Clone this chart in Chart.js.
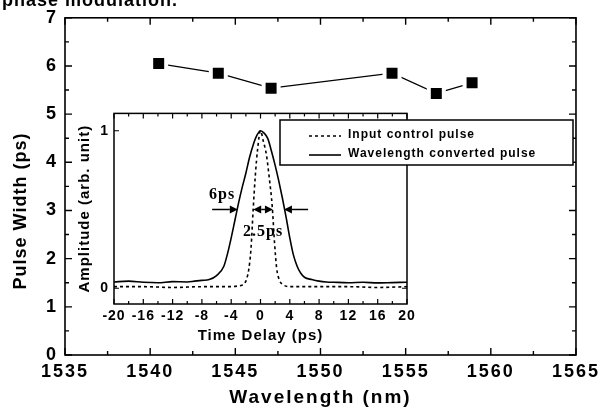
<!DOCTYPE html>
<html>
<head>
<meta charset="utf-8">
<script src="https://cdn.jsdelivr.net/npm/chart.js@4.4.1/dist/chart.umd.min.js"></script>
<style>
  html, body { margin: 0; padding: 0; background: #fff; }
  #wrap { position: relative; width: 602px; height: 415px; overflow: hidden; }
  #mainChart { position: absolute; left: 0; top: 0; }
  #insetChart { position: absolute; left: 70px; top: 100px; }
  #topText { position: absolute; left: 2px; top: -9px; font: bold 18px "Liberation Sans", Arial, sans-serif; line-height: 18px; letter-spacing: 1px; color: #000; }
</style>
</head>
<body>
<div id="wrap">
  <canvas id="mainChart" width="602" height="415"></canvas>
  <canvas id="insetChart" width="510" height="250"></canvas>
  <div id="topText">phase modulation.</div>
</div>
<script>
// main plot: pulse width vs wavelength
var wavelengths = [1540.5, 1544.0, 1547.1, 1554.2, 1556.8, 1558.9];
var pulseWidths = [6.05, 5.85, 5.54, 5.85, 5.43, 5.65];
var wlTicks = [1535, 1540, 1545, 1550, 1555, 1560, 1565];
var pwTicks = [0, 1, 2, 3, 4, 5, 6, 7];

// inset: pulse shapes vs time delay
var convertedT = [-20, -18, -16, -14, -12, -10, -9, -8, -7, -6, -5, -4.5, -4, -3.5, -3, -2.5, -2, -1.5, -1, -0.5, 0,
                  0.5, 1, 1.5, 2, 2.5, 3, 3.5, 4, 4.5, 5, 5.5, 6, 7, 8, 9, 10, 12, 14, 16, 18, 20];
var convertedAmp = [0.04, 0.045, 0.038, 0.035, 0.042, 0.04, 0.045, 0.05, 0.055, 0.08, 0.14, 0.22, 0.32, 0.43, 0.54, 0.64, 0.73, 0.83, 0.91, 0.97, 1.0,
                    0.985, 0.95, 0.87, 0.78, 0.68, 0.57, 0.45, 0.32, 0.21, 0.14, 0.095, 0.07, 0.055, 0.045, 0.04, 0.038, 0.035, 0.038, 0.034, 0.036, 0.038];
var inputT = [-20, -16, -12, -8, -4, -3, -2.5, -2, -1.6, -1.3, -1, -0.7, -0.4, 0, 0.4, 0.8, 1.2, 1.6, 1.9, 2.2, 2.6, 3, 4, 8, 12, 16, 20];
var inputAmp = [0.01, 0.01, 0.005, 0.01, 0.01, 0.015, 0.02, 0.045, 0.12, 0.25, 0.5, 0.72, 0.88, 1.0, 0.93, 0.85, 0.7, 0.52, 0.3, 0.13, 0.05, 0.025, 0.01, 0.01, 0.01, 0.005, 0.01];
var delayTicks = [-20, -16, -12, -8, -4, 0, 4, 8, 12, 16, 20];
var ampTicks = [0, 1];

function toPoints(xs, ys) {
    return xs.map(function (x, i) { return { x: x, y: ys[i] }; });
}
function midpoints(arr) {
    var out = [];
    for (var i = 0; i < arr.length - 1; i++) out.push((arr[i] + arr[i + 1]) / 2);
    return out;
}
function plain(v) { return String(v); }

// frame with inward ticks on all four sides
function framePlugin(id, o) {
    return {
        id: id,
        afterDraw: function (chart) {
            var ctx = chart.ctx, a = chart.chartArea;
            var sx = chart.scales.x, sy = chart.scales.y;
            ctx.save();
            ctx.strokeStyle = '#000';
            ctx.lineWidth = o.lw;
            ctx.strokeRect(a.left, a.top, a.right - a.left, a.bottom - a.top);
            ctx.lineWidth = o.tickW;
            ctx.beginPath();
            function xt(v, len) {
                var p = sx.getPixelForValue(v);
                ctx.moveTo(p, a.bottom); ctx.lineTo(p, a.bottom - len);
                ctx.moveTo(p, a.top); ctx.lineTo(p, a.top + len);
            }
            function yt(v, len) {
                var p = sy.getPixelForValue(v);
                ctx.moveTo(a.left, p); ctx.lineTo(a.left + len, p);
                ctx.moveTo(a.right, p); ctx.lineTo(a.right - len, p);
            }
            o.xMajor.forEach(function (v) { xt(v, o.major); });
            o.xMinor.forEach(function (v) { xt(v, o.minor); });
            o.yMajor.forEach(function (v) { yt(v, o.major); });
            o.yMinor.forEach(function (v) { yt(v, o.minor); });
            ctx.stroke();
            ctx.restore();
        }
    };
}

function spacingPlugin(px) {
    return {
        id: 'spacing',
        beforeDraw: function (chart) { chart.ctx.letterSpacing = px; }
    };
}

var yTitlePlugin = {
    id: 'yTitle',
    afterDraw: function (chart) {
        var ctx = chart.ctx;
        ctx.save();
        ctx.letterSpacing = '1px';
        ctx.font = 'bold 18px "Liberation Sans", Arial, sans-serif';
        ctx.fillStyle = '#000';
        ctx.textAlign = 'center';
        ctx.textBaseline = 'middle';
        ctx.translate(21, 211);
        ctx.rotate(-Math.PI / 2);
        ctx.fillText('Pulse Width (ps)', 0, 0);
        ctx.restore();
    }
};

var mainFont = { family: '"Liberation Sans", Arial, sans-serif', weight: 'bold', size: 18 };

new Chart(document.getElementById('mainChart'), {
    type: 'line',
    data: {
        datasets: [{
            data: toPoints(wavelengths, pulseWidths),
            borderColor: '#000',
            borderWidth: 1.3,
            pointStyle: 'rect',
            pointRadius: 10.6,
            pointBackgroundColor: '#000',
            pointBorderColor: '#fff',
            pointBorderWidth: 4,
            tension: 0
        }]
    },
    options: {
        responsive: false,
        animation: false,
        layout: { padding: { top: 13, right: 26, left: 0, bottom: 0 } },
        plugins: { legend: { display: false }, tooltip: { enabled: false } },
        scales: {
            x: {
                type: 'linear', min: 1535, max: 1565,
                afterBuildTicks: function (s) { s.ticks = wlTicks.map(function (v) { return { value: v }; }); },
                afterFit: function (s) { s.height = 60; },
                grid: { display: false, drawTicks: false },
                border: { display: false },
                ticks: { color: '#000', font: mainFont, padding: 6, maxRotation: 0, autoSkip: false, callback: plain },
                title: { display: true, text: 'Wavelength (nm)', color: '#000',
                         font: { family: mainFont.family, weight: 'bold', size: 19 }, padding: { top: 0, bottom: 6 } }
            },
            y: {
                min: 0, max: 7,
                afterBuildTicks: function (s) { s.ticks = pwTicks.map(function (v) { return { value: v }; }); },
                afterFit: function (s) { s.width = 65; },
                grid: { display: false, drawTicks: false },
                border: { display: false },
                ticks: { color: '#000', font: mainFont, padding: 7, callback: plain }
            }
        }
    },
    plugins: [
        spacingPlugin('2px'),
        framePlugin('mainFrame', { lw: 1.6, tickW: 1.4, major: 7, minor: 4,
            xMajor: wlTicks, xMinor: midpoints(wlTicks), yMajor: pwTicks, yMinor: midpoints(pwTicks) }),
        yTitlePlugin
    ]
});

// legend box for the inset (extends to the right of the inset frame)
var insetLegend = {
    id: 'insetLegend',
    afterDraw: function (chart) {
        var ctx = chart.ctx;
        ctx.save();
        ctx.fillStyle = '#fff';
        ctx.fillRect(210, 20, 293, 45);
        ctx.strokeStyle = '#000';
        ctx.lineWidth = 1.5;
        ctx.strokeRect(210, 20, 293, 45);
        ctx.font = 'bold 12px "Liberation Sans", Arial, sans-serif';
        ctx.letterSpacing = '1px';
        ctx.fillStyle = '#000';
        ctx.textBaseline = 'middle';
        var rows = [36, 55];
        chart.data.datasets.forEach(function (ds, i) {
            ctx.setLineDash(ds.borderDash || []);
            ctx.lineWidth = ds.borderWidth;
            ctx.beginPath();
            ctx.moveTo(239, rows[i]); ctx.lineTo(271, rows[i]);
            ctx.stroke();
            ctx.setLineDash([]);
            ctx.fillText(ds.label, 278, rows[i] - 1);
        });
        ctx.restore();
    }
};

// "6ps" / "2.5ps" width annotations
function drawArrow(ctx, x0, y, x1, head) {
    var d = x1 > x0 ? 1 : -1;
    ctx.beginPath(); ctx.moveTo(x0, y); ctx.lineTo(x1 - d * head, y); ctx.stroke();
    ctx.beginPath();
    ctx.moveTo(x1, y); ctx.lineTo(x1 - d * head, y - head * 0.5); ctx.lineTo(x1 - d * head, y + head * 0.5);
    ctx.closePath(); ctx.fill();
}
var widthNotes = {
    id: 'widthNotes',
    afterDraw: function (chart) {
        var ctx = chart.ctx, sx = chart.scales.x, sy = chart.scales.y;
        var px = function (v) { return sx.getPixelForValue(v); };
        var yA = sy.getPixelForValue(0.5);
        ctx.save();
        ctx.strokeStyle = '#000'; ctx.fillStyle = '#000'; ctx.lineWidth = 1.5;
        drawArrow(ctx, px(-6.6), yA, px(-3.1), 8);
        drawArrow(ctx, px(6.5), yA, px(3.2), 8);
        var m = (px(-1.0) + px(1.7)) / 2;
        drawArrow(ctx, m, yA, px(-1.0), 8);
        drawArrow(ctx, m, yA, px(1.7), 8);
        ctx.font = 'bold 16px "Liberation Serif", "Times New Roman", serif';
        ctx.letterSpacing = '1px';
        ctx.textAlign = 'center';
        ctx.textBaseline = 'middle';
        ctx.fillText('6ps', px(-5.25), sy.getPixelForValue(0.59));
        ctx.fillText('2.5ps', px(0.35), sy.getPixelForValue(0.36));
        ctx.restore();
    }
};

var insetFont = { family: '"Liberation Sans", Arial, sans-serif', weight: 'bold', size: 14 };

new Chart(document.getElementById('insetChart'), {
    type: 'line',
    data: {
        datasets: [{
            label: 'Input control pulse',
            data: toPoints(inputT, inputAmp),
            borderColor: '#000',
            borderWidth: 1.6,
            borderDash: [3, 3],
            pointRadius: 0,
            cubicInterpolationMode: 'monotone'
        }, {
            label: 'Wavelength converted pulse',
            data: toPoints(convertedT, convertedAmp),
            borderColor: '#000',
            borderWidth: 1.6,
            pointRadius: 0,
            cubicInterpolationMode: 'monotone'
        }]
    },
    options: {
        responsive: false,
        animation: false,
        layout: { padding: { top: 9, right: 173, left: 0, bottom: 0 } },
        plugins: { legend: { display: false }, tooltip: { enabled: false } },
        scales: {
            x: {
                type: 'linear', min: -20, max: 20,
                afterBuildTicks: function (s) { s.ticks = delayTicks.map(function (v) { return { value: v }; }); },
                afterFit: function (s) { s.height = 46; },
                grid: { display: false, drawTicks: false },
                border: { display: false },
                ticks: { color: '#000', font: insetFont, padding: 4, maxRotation: 0, autoSkip: false, callback: plain },
                title: { display: true, text: 'Time Delay (ps)', color: '#000',
                         font: { family: insetFont.family, weight: 'bold', size: 15 }, padding: { top: 0, bottom: 5 } }
            },
            y: {
                min: -0.1, max: 1.11,
                afterBuildTicks: function (s) { s.ticks = ampTicks.map(function (v) { return { value: v }; }); },
                afterFit: function (s) { s.width = 44; },
                grid: { display: false, drawTicks: false },
                border: { display: false },
                ticks: { color: '#000', font: insetFont, padding: 5, callback: plain },
                title: { display: true, text: 'Amplitude (arb. unit)', color: '#000',
                         font: { family: insetFont.family, weight: 'bold', size: 15 }, padding: { top: 6, bottom: 0 } }
            }
        }
    },
    plugins: [
        spacingPlugin('1px'),
        framePlugin('insetFrame', { lw: 1.5, tickW: 1.2, major: 5, minor: 3,
            xMajor: delayTicks, xMinor: midpoints(delayTicks), yMajor: ampTicks, yMinor: [] }),
        widthNotes,
        insetLegend
    ]
});
</script>
</body>
</html>
